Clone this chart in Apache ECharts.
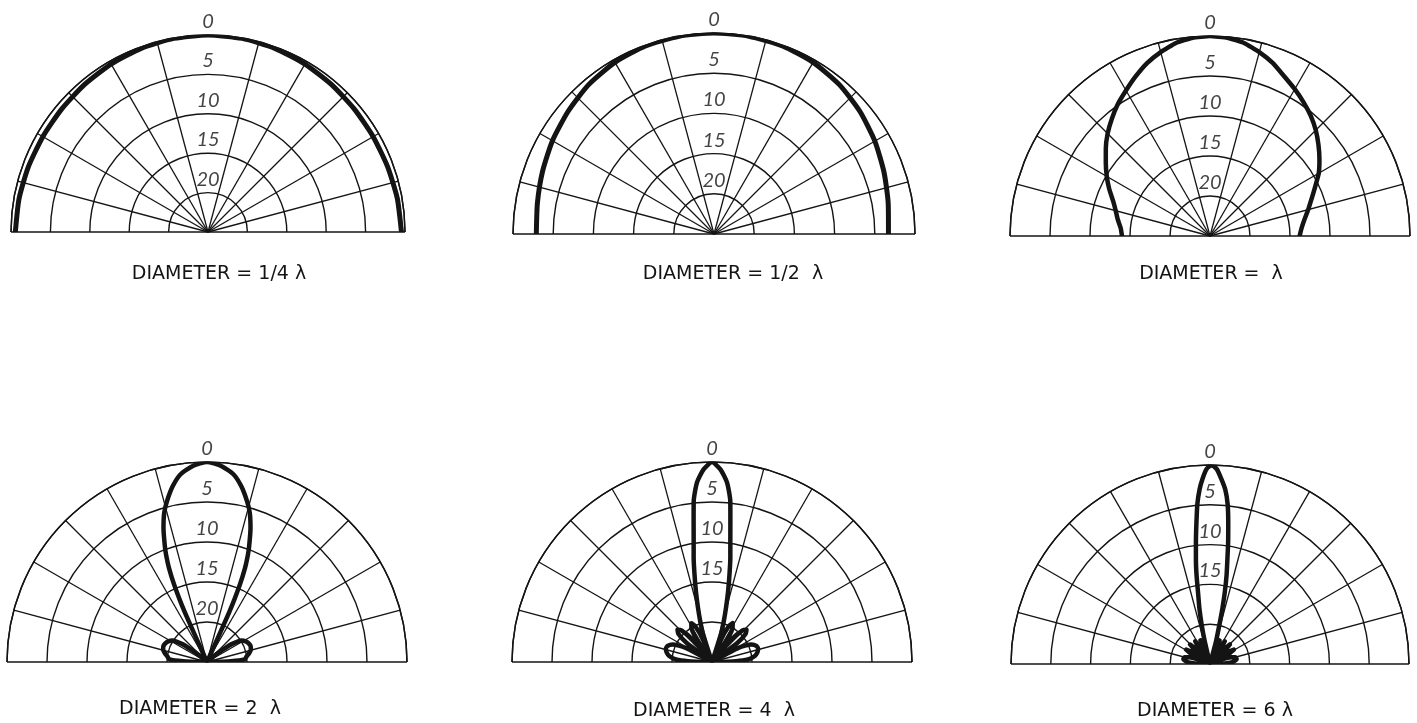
<!DOCTYPE html>
<html><head><meta charset="utf-8">
<script src="https://cdn.jsdelivr.net/npm/echarts@6/dist/echarts.min.js"></script>
<style>html,body{margin:0;padding:0;background:#fff}#c{width:1417px;height:723px}</style>
</head><body><div id="c"></div>
<script>
// ---- data: relative response in dB down, versus angle (degrees from the axis) ----
const P1_ANG = [-90,-80,-70,-60,-50,-40,-30,-20,-10,0,10,20,30,40,50,60,70,80,90];
const P1_DB  = [0.55,0.65,0.75,0.8,0.75,0.6,0.4,0.2,0.05,0,0.05,0.2,0.4,0.6,0.75,0.8,0.75,0.6,0.45];

const P2_ANG = [-90,-80,-70,-60,-50,-40,-30,-20,-10,0,10,20,30,40,50,60,70,80,90];
const P2_DB  = [2.9,2.7,2.3,1.8,1.3,0.75,0.35,0.1,0.02,0,0.02,0.1,0.35,0.75,1.3,1.9,2.5,3.0,3.3];

const P3_ANG = [-90,-85,-80,-75,-70,-65,-60,-55,-50,-45,-40,-35,-30,-25,-20,-15,-10,-5,0,5,10,15,20,25,30,35,40,45,50,55,60,65,70,75,80,85,90];
const P3_DB  = [14.0,13.8,13.3,12.8,12.1,11.1,10.1,9.1,8.0,6.9,5.9,4.9,4.0,3.0,2.0,1.2,0.5,0.12,0,0.12,0.5,1.2,2.0,3.0,3.8,4.6,5.4,6.3,7.3,8.3,9.3,10.5,11.5,12.3,13.0,13.5,13.8];

const P4_ANG = [-90,-88,-86,-82,-78,-74,-70,-66,-62,-58,-54,-52,-50,-48,-25,-24,-23,-22,-21,-20,-18,-16,-14,-11,-8,-4,0,4,8,11,14,16,18,20,21,22,23,24,25,48,50,52,54,58,62,66,70,74,78,82,86,88,90];
const P4_DB  = [25,22,20.3,20.0,19.6,19.3,19.2,19.3,19.5,19.9,21.2,22.5,23.7,25,25,18,14.5,12.3,10.8,9.6,7.4,5.6,4.3,2.6,1.3,0.4,0,0.4,1.3,2.6,4.3,5.6,7.4,9.6,10.8,12.3,14.5,18,25,25,23.7,22.5,21.2,19.9,19.5,19.3,19.2,19.3,19.6,20.0,20.3,22,25];

const P5_ANG = [-90,-88,-86,-82,-78,-74,-70,-66,-62,-58,-56,-53,-50,-47,-44,-41,-38,-36.5,-34,-31,-28,-25,-22,-19.5,-17.7,-16,-14.4,-12.8,-11.2,-10,-8.5,-7.5,-6.5,-4.8,-2.5,0,2.5,4.8,6.5,7.5,8.5,10,11.2,12.8,14.4,16,17.7,19.5,22,25,28,31,34,36.5,38,41,44,47,50,53,56,58,62,66,70,74,78,82,86,88,90];
const P5_DB  = [25,22,20.5,19.6,19.2,19.0,19.1,19.6,21.2,25,25,21.0,19.5,19.1,19.5,21.2,25,25,21.6,20.0,19.5,20.1,22.0,25,21.2,19.6,17.9,15.9,13.7,11.8,9.5,7.4,4.8,2.5,0.9,0,0.9,2.5,4.8,7.4,9.5,11.8,13.7,15.9,17.9,19.6,21.2,25,22.0,20.1,19.5,20.0,21.6,25,25,21.2,19.5,19.1,19.5,21.0,25,25,21.2,19.6,19.1,19.0,19.2,19.6,20.5,22,25];

const P6_ANG = [-90,-88,-85,-80,-75,-70,-66,-63,-59,-55,-52,-49,-45.5,-42,-39,-36.5,-33,-29.5,-27,-24.5,-22,-19.5,-15,-13,-12,-10.8,-9.5,-8.6,-7.7,-6.6,-5.5,-4.5,-3.4,-2.3,-1,0.5,2,3.5,5,6.3,7.4,8.5,9.5,10.6,11.7,12.6,13.5,14.8,16,17,19.5,22,24.5,27,29.5,33,36.5,39,42,45.5,49,52,55,59,63,66,70,75,80,85,88,90];
const P6_DB  = [25,23.5,22.2,21.6,21.7,22.5,25,22.6,21.5,22.6,25,22.8,21.5,22.8,25,23,21.6,23,25,23,21.8,23,25,22,20,17.9,15.9,13.7,11.8,9.6,7.2,4.8,3.0,1.7,0.5,0,0.5,1.7,3.0,4.8,7.2,9.6,11.8,13.7,15.9,17.9,20,22,25,25,23,21.8,23,25,23,21.6,23,25,22.8,21.5,22.8,25,22.6,21.5,22.6,25,22.5,21.7,21.6,22.2,23.5,25];

const TICKS_FULL  = [0,5,10,15,20];
const TICKS_SHORT = [0,5,10,15];
const CAPTIONS = ['DIAMETER = 1/4 λ','DIAMETER = 1/2  λ','DIAMETER =  λ','DIAMETER = 2  λ','DIAMETER = 4  λ','DIAMETER = 6 λ'];

// ---- layout ----
const panels = [
  {ang:P1_ANG, db:P1_DB, ticks:TICKS_FULL,  center:[208,232],  r:197, lw:5,   sm:0.2,  cap:[214,260]},
  {ang:P2_ANG, db:P2_DB, ticks:TICKS_FULL,  center:[714,234],  r:201, lw:5,   sm:0.2,  cap:[728,260]},
  {ang:P3_ANG, db:P3_DB, ticks:TICKS_FULL,  center:[1210,236], r:200, lw:4.5, sm:0.12, cap:[1206,260]},
  {ang:P4_ANG, db:P4_DB, ticks:TICKS_FULL,  center:[207,662],  r:200, lw:4.5, sm:0.2,  cap:[195,695]},
  {ang:P5_ANG, db:P5_DB, ticks:TICKS_SHORT, center:[712,662],  r:200, lw:4.5, sm:0.2,  cap:[709,697]},
  {ang:P6_ANG, db:P6_DB, ticks:TICKS_SHORT, center:[1210,664], r:199, lw:4.5, sm:0.2,  cap:[1210,697]}
];

const INK = '#141414';
const spokeColors = [];
for (let i = 0; i < 13; i++) spokeColors.push(i === 6 ? 'rgba(0,0,0,0)' : INK);

const option = {
  backgroundColor:'#fff',
  animation:false,
  title: panels.map((p,i)=>({
    text: CAPTIONS[i], left: p.cap[0], top: p.cap[1], textAlign:'center',
    textStyle:{fontFamily:'DejaVu Sans', fontSize:19, fontWeight:'normal', color:INK}
  })),
  polar: panels.map(p=>({center:p.center, radius:p.r})),
  angleAxis: panels.map((p,i)=>({
    polarIndex:i, type:'value', min:-90, max:90, interval:15,
    startAngle:180, endAngle:0, clockwise:true,
    axisLine:{show:true, lineStyle:{color:INK, width:1.4}},
    axisTick:{show:false}, axisLabel:{show:false},
    splitLine:{show:true, lineStyle:{color:spokeColors, width:1.3}}
  })),
  radiusAxis: panels.map((p,i)=>({
    polarIndex:i, type:'value', min:0, max:25, interval:5, inverse:true,
    axisLine:{show:false}, axisTick:{show:false}, axisLabel:{show:false},
    splitLine:{show:true, lineStyle:{color:INK, width:1.4}}
  })),
  series: []
};

panels.forEach((p,i)=>{
  option.series.push({
    type:'line', coordinateSystem:'polar', polarIndex:i, silent:true,
    data: p.ang.map((a,k)=>[p.db[k], a]),
    symbol:'none', smooth:p.sm, clip:false,
    lineStyle:{color:INK, width:p.lw, join:'round', cap:'round'}
  });
  option.series.push({
    type:'scatter', coordinateSystem:'polar', polarIndex:i, silent:true,
    data: p.ticks.map(v=>[v,0]),
    symbolSize:1, itemStyle:{color:'rgba(0,0,0,0)'},
    label:{show:true, position:'top', distance:3, formatter:(d)=>String(d.value[0]),
      fontFamily:'Lato', fontStyle:'italic', fontSize:20, color:INK}
  });
});

const chart = echarts.init(document.getElementById('c'), null, {renderer:'canvas'});
chart.setOption(option);
</script></body></html>
